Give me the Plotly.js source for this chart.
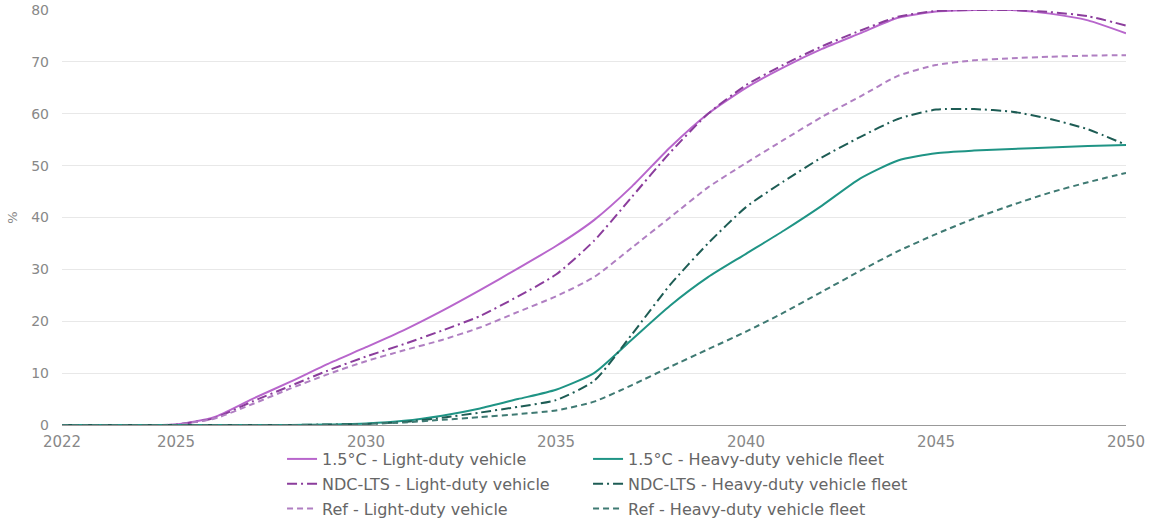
<!DOCTYPE html>
<html>
<head>
<meta charset="utf-8">
<script src="https://cdn.plot.ly/plotly-3.0.1.min.js"></script>
<style>html,body{margin:0;padding:0;background:#fff;}#chart{width:1149px;height:524px;}</style>
</head>
<body>
<div id="chart"></div>
<script>
const years = [2022,2023,2024,2025,2026,2027,2028,2029,2030,2031,2032,2033,2034,2035,2036,2037,2038,2039,2040,2041,2042,2043,2044,2045,2046,2047,2048,2049,2050];

const ldv15  = [0,0,0,0.1,1.5,5,8.3,11.8,15,18.3,22,26,30.2,34.5,39.5,46,53.5,60,65,69,72.5,75.5,78.5,79.7,80,80,79.3,78,75.5];
const ldvNdc = [0,0,0,0.1,1.3,4.5,7.5,10.5,13.2,15.6,18.2,21,24.8,29,35.5,44,52.5,60,65.5,69.5,73,76,78.7,79.8,80,80,79.6,78.8,77];
const ldvRef = [0,0,0,0.1,1.2,4,7,9.8,12.3,14.4,16.4,18.8,21.8,24.8,28.5,34.2,40,45.8,50.5,55,59.4,63.3,67.3,69.4,70.3,70.7,71,71.2,71.3];
const hdv15  = [0,0,0,0,0,0,0,0.1,0.3,0.8,1.8,3.2,5,6.8,10,16.5,23,28.5,33,37.5,42.3,47.5,51,52.4,52.9,53.2,53.5,53.8,54];
const hdvNdc = [0,0,0,0,0,0,0,0.1,0.2,0.6,1.4,2.4,3.5,4.8,8.5,17.5,27,35,42,47,51.6,55.5,59,60.8,60.9,60.4,59,57,54];
const hdvRef = [0,0,0,0,0,0,0,0,0.2,0.5,1,1.5,2.1,2.8,4.5,7.7,11.2,14.6,18,21.7,25.7,29.7,33.5,36.8,39.8,42.4,44.8,46.8,48.6];

const names = ["1.5°C - Light-duty vehicle","NDC-LTS - Light-duty vehicle","Ref - Light-duty vehicle",
               "1.5°C - Heavy-duty vehicle fleet","NDC-LTS - Heavy-duty vehicle fleet","Ref - Heavy-duty vehicle fleet"];
const xTicks = [2022,2025,2030,2035,2040,2045,2050];
const yTicks = [0,10,20,30,40,50,60,70,80];

const series = [ldv15, ldvNdc, ldvRef, hdv15, hdvNdc, hdvRef];
const colors = ["#b866cc","#8b3d9c","#b07fc2","#1f9485","#1d5c54","#3f7a73"];
const dashes = ["solid","10px,4px,2px,4px","6px,4px","solid","10px,4px,2px,4px","6px,4px"];
const legends = ["legend","legend","legend","legend2","legend2","legend2"];

const traces = series.map((s,i)=>({
  x: years, y: s, name: names[i], type:"scatter", mode:"lines",
  line:{color:colors[i], width:2, dash:dashes[i], shape:"spline", smoothing:0.6},
  legend: legends[i], legendgroup: "g"+i, hoverinfo:"skip"
}));

const legendCommon = {
  orientation:"v", xanchor:"left", yanchor:"top", y:-0.041,
  font:{family:"DejaVu Sans", size:16, color:"#666"},
  bgcolor:"rgba(0,0,0,0)", tracegroupgap:1, itemwidth:30
};

const layout = {
  width:1149, height:524,
  margin:{l:62, r:23, t:10, b:99, autoexpand:false},
  paper_bgcolor:"#fff", plot_bgcolor:"#fff",
  font:{family:"DejaVu Sans", size:13, color:"#666"},
  showlegend:true,
  legend: Object.assign({}, legendCommon, {x:0.2068}),
  legend2: Object.assign({}, legendCommon, {x:0.4944}),
  xaxis:{range:[2022,2050], tickvals:xTicks, ticktext:xTicks.map(String),
         showgrid:false, zeroline:false, showline:true, linecolor:"#999", linewidth:1,
         ticks:"", ticklabelstandoff:3, tickfont:{size:15, color:"#888"}},
  yaxis:{range:[0,80], tickvals:yTicks, showgrid:true, gridcolor:"#e8e8e8", gridwidth:1,
         zeroline:false, showline:false, ticks:"", ticklabelstandoff:12,
         tickfont:{size:14, color:"#888"},
         title:{text:"%", font:{size:13, color:"#888"}, standoff:10}}
};

Plotly.newPlot("chart", traces, layout, {displayModeBar:false, staticPlot:true});
</script>
</body>
</html>
